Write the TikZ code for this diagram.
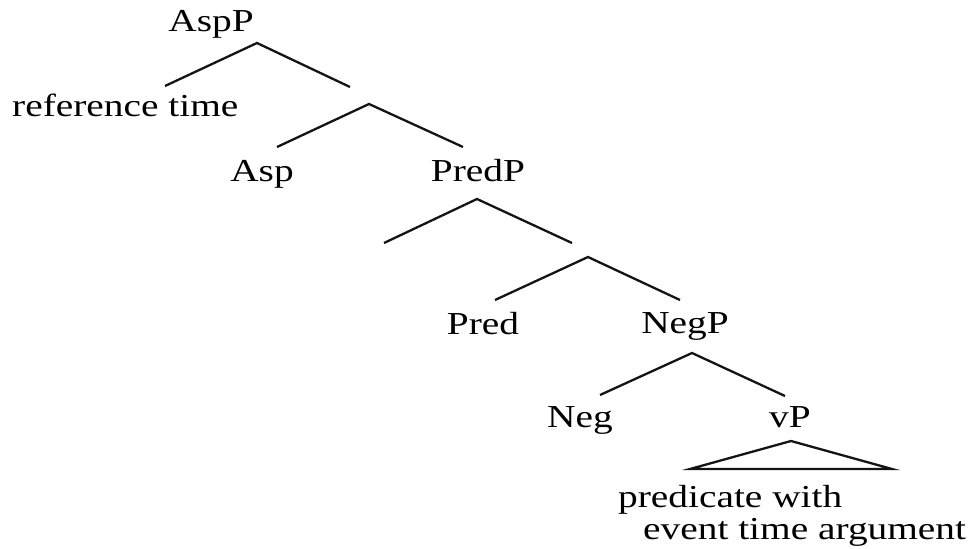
\documentclass[tikz,border=0pt]{standalone}
\usepackage{fontspec}
\setmainfont{Liberation Serif}
\newcommand{\lbl}[1]{\scalebox{1.23}[1]{#1}}
\begin{document}
\begin{tikzpicture}[x=1pt,y=-1pt,
  lab/.style={inner sep=0pt, anchor=base, font=\fontsize{32}{38}\selectfont, text=black},
  branch/.style={line width=2.3pt, draw=black!92, line join=miter}]
\useasboundingbox (0,0) rectangle (973,548);

% labels
\node[lab] (asppl) at (211,32) {\lbl{AspP}};
\node[lab, anchor=base west] (reft) at (12,117) {\lbl{reference time}};
\node[lab] (asp) at (262,182) {\lbl{Asp}};
\node[lab] (predp) at (478,182) {\lbl{PredP}};
\node[lab] (pred) at (483,334) {\lbl{Pred}};
\node[lab] (negp) at (685,333) {\lbl{NegP}};
\node[lab] (neg) at (580,427) {\lbl{Neg}};
\node[lab] (vp) at (790,427) {\lbl{vP}};
\node[lab, anchor=base west] (predw) at (618,507) {\lbl{predicate with}};
\node[lab, anchor=base west] (evt) at (643,539) {\lbl{event time argument}};

% branch points
\coordinate (a1) at (257,43);  \coordinate (l1) at (165,86);  \coordinate (r1) at (350,87);
\coordinate (a2) at (369,104); \coordinate (l2) at (277,147); \coordinate (r2) at (463,147);
\coordinate (a3) at (477,199); \coordinate (l3) at (384,243); \coordinate (r3) at (572,243);
\coordinate (a4) at (588,257); \coordinate (l4) at (495,300); \coordinate (r4) at (680,300);
\coordinate (a5) at (692,353); \coordinate (l5) at (600,395); \coordinate (r5) at (785,396);
\coordinate (t0) at (791,441); \coordinate (tl) at (690,469); \coordinate (tr) at (892,469);

% tree branches
\draw[branch] (l1) -- (a1) -- (r1);
\draw[branch] (l2) -- (a2) -- (r2);
\draw[branch] (l3) -- (a3) -- (r3);
\draw[branch] (l4) -- (a4) -- (r4);
\draw[branch] (l5) -- (a5) -- (r5);
% vP triangle
\draw[branch] (t0) -- (tl) -- (tr) -- cycle;
\end{tikzpicture}
\end{document}
